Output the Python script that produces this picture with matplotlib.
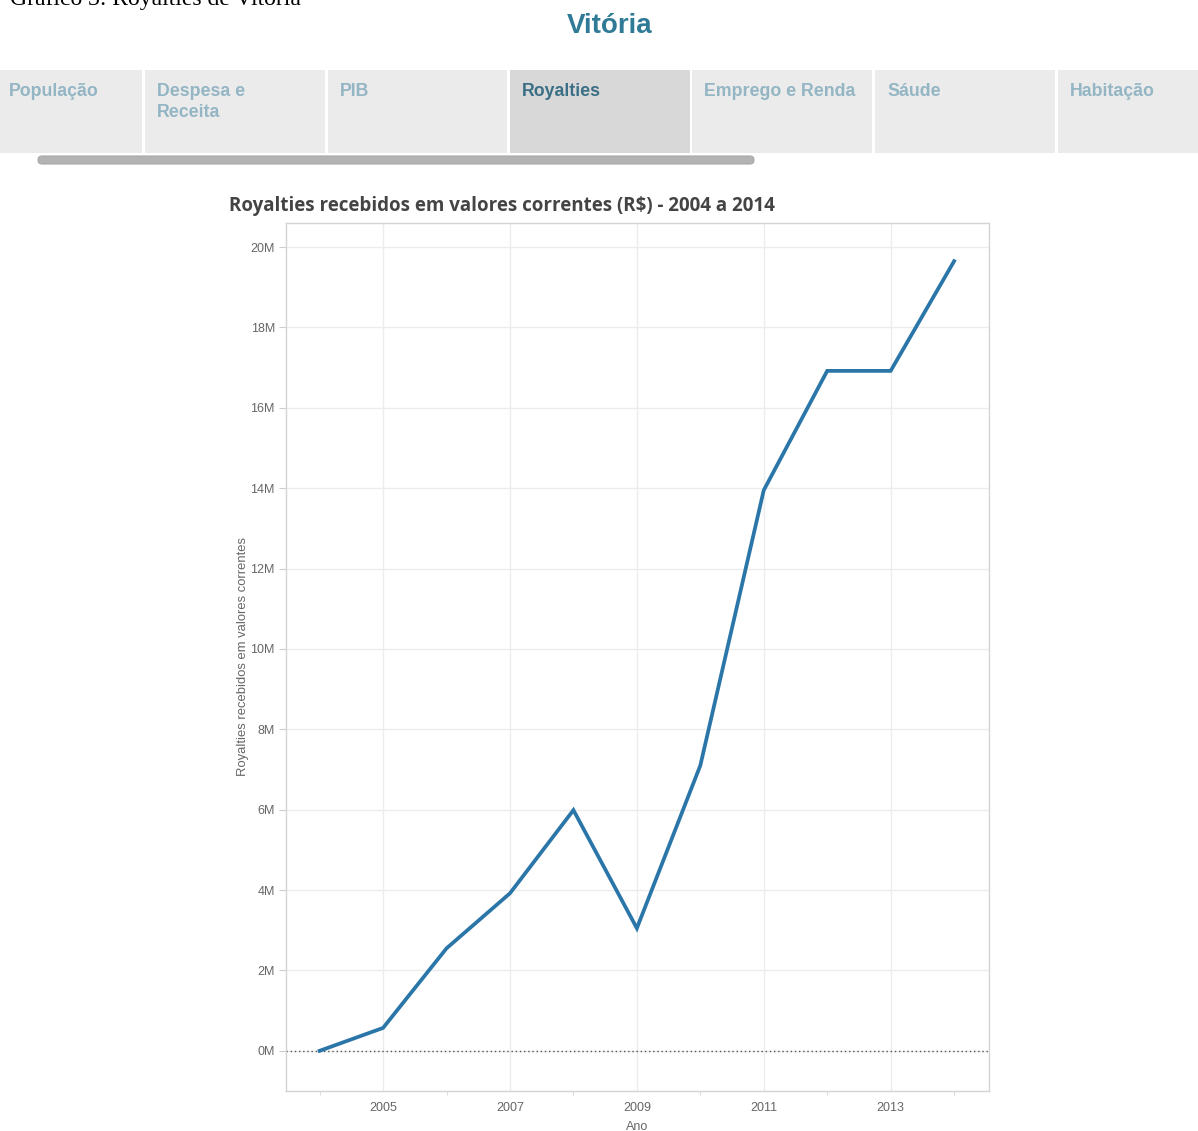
import numpy as np
import matplotlib
matplotlib.use("Agg")
import matplotlib.pyplot as plt
from matplotlib.patches import Rectangle, FancyBboxPatch
from matplotlib.ticker import FuncFormatter, MultipleLocator

# dados (R$ milhoes)
anos = [2004, 2005, 2006, 2007, 2008, 2009, 2010, 2011, 2012, 2013, 2014]
royalties = [0.0, 0.57, 2.55, 3.92, 5.99, 3.05, 7.1, 13.95, 16.92, 16.92, 19.65]

abas = ["População", "Despesa e\nReceita", "PIB", "Royalties",
        "Emprego e Renda", "Sáude", "Habitação"]
aba_ativa = "Royalties"

W, H = 1198, 1131
fig = plt.figure(figsize=(W / 100, H / 100), dpi=100)

# camada de fundo em pixels
bg = fig.add_axes([0, 0, 1, 1])
bg.set_xlim(0, W)
bg.set_ylim(H, 0)
bg.axis("off")

# legenda do documento, cortada no topo como na imagem original
bg.text(10, 5, "Gráfico 3: Royalties de Vitória", fontsize=17,
        family="Liberation Serif", color="black", va="baseline", ha="left")
bg.text(610, 26, "Vitória", fontsize=20, fontweight="bold",
        family="Liberation Sans", color="#2f7a96", ha="center", va="center")

bordas = [(0, 142), (145, 325), (328, 507), (510, 690), (692, 872),
          (875, 1055), (1058, 1198)]
for nome, (x0, x1) in zip(abas, bordas):
    ativo = nome == aba_ativa
    bg.add_patch(Rectangle((x0, 70), x1 - x0, 83,
                           facecolor="#d8d8d8" if ativo else "#ebebeb",
                           edgecolor="none"))
    bg.text(x0 + 12 if x0 > 0 else 9, 83, nome, fontsize=12.8,
            fontweight="bold", family="Liberation Sans",
            color="#3b6f86" if ativo else "#93b5c4",
            ha="left", va="top", linespacing=1.3)

bg.add_patch(FancyBboxPatch((38, 156), 716, 8,
                            boxstyle="round,pad=0,rounding_size=4",
                            facecolor="#b3b3b3", edgecolor="#a8a8a8", lw=0.8))

bg.text(229, 206, "Royalties recebidos em valores correntes (R$) - 2004 a 2014",
        fontsize=13.5, fontweight="bold", family="Open Sans",
        color="#444444", ha="left", va="center")

# grafico
ax = fig.add_axes([286 / W, (H - 1091) / H, (989 - 286) / W, (1091 - 223) / H])
ax.plot(anos, royalties, color="#2b76a8", lw=2.7, solid_joinstyle="miter",
        zorder=3)
ax.axhline(0, color="#555555", lw=1, ls=(0, (1, 2)), zorder=2)

ax.set_xlim(2003.47, 2014.55)
ax.set_ylim(-1.0, 20.6)
ax.set_xticks([2005, 2007, 2009, 2011, 2013])
ax.xaxis.set_minor_locator(MultipleLocator(1))
ax.yaxis.set_major_locator(MultipleLocator(2))
ax.yaxis.set_major_formatter(FuncFormatter(lambda v, p: f"{v:.0f}M"))

ax.grid(True, which="major", color="#ececec", lw=1)
ax.set_axisbelow(True)
for s in ax.spines.values():
    s.set_color("#d4d4d4")
    s.set_linewidth(1)

ax.tick_params(axis="y", which="major", length=5, width=0.8, color="#cccccc",
               labelsize=9, labelcolor="#666666", pad=3)
ax.tick_params(axis="x", which="major", length=0, labelsize=9,
               labelcolor="#666666", pad=8)
ax.tick_params(axis="x", which="minor", length=3, width=0.8, color="#dddddd")
for lab in ax.get_xticklabels() + ax.get_yticklabels():
    lab.set_family("Liberation Sans")

ax.set_xlabel("Ano", fontsize=9, color="#666666", family="Liberation Sans",
              labelpad=5)
ax.set_ylabel("Royalties recebidos em valores correntes", fontsize=9.4,
              color="#666666", family="Liberation Sans", labelpad=1)

fig.savefig("out.png", dpi=100)
